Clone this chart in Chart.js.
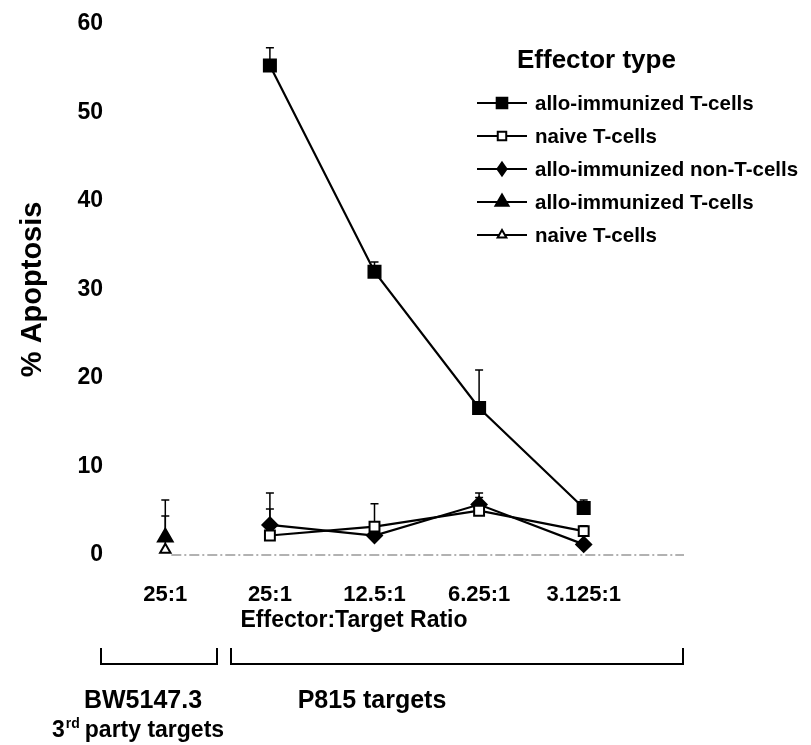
<!DOCTYPE html>
<html>
<head>
<meta charset="utf-8">
<script src="https://cdn.jsdelivr.net/npm/chart.js@4.4.0/dist/chart.umd.min.js"></script>
<style>
    html, body { margin: 0; padding: 0; background: #fff; }
</style>
</head>
<body>
<canvas id="apoptosisChart" width="811" height="745"></canvas>
<script>
// E:T ratios (first one is the BW5147.3 3rd party target, the rest P815)
const ratios = ['25:1', '25:1', '12.5:1', '6.25:1', '3.125:1'];

// % apoptosis, mean and upper error
const alloT = [null, 55.3, 32.0, 16.6, 5.3];
const alloTErr = [null, 2.0, 1.1, 4.3, 0.9];
const naiveT = [null, 2.2, 3.2, 5.0, 2.7];
const naiveTErr = [null, 3.0, 2.6, 1.5, 0.6];
const alloNonT = [null, 3.4, 2.2, 5.7, 1.2];
const alloNonTErr = [null, 3.6, 0, 1.3, 0];
const alloT3rd = [2.0, null, null, null, null];
const alloT3rdErr = [4.2, null, null, null, null];
const naiveT3rd = [0.6, null, null, null, null];
const naiveT3rdErr = [3.8, null, null, null, null];

const yTicks = [0, 10, 20, 30, 40, 50, 60];

const FONT = '"Liberation Sans", Arial, sans-serif';

function series(label, data, errors, style, fill, radius) {
    return {
        label: label,
        data: data,
        errors: errors,
        borderColor: '#000',
        borderWidth: 2.2,
        pointStyle: style,
        pointRadius: radius,
        pointHoverRadius: radius,
        pointBackgroundColor: fill,
        pointBorderColor: '#000',
        pointBorderWidth: 2,
        tension: 0,
        spanGaps: false,
        clip: false
    };
}

const datasets = [
    series('allo-immunized T-cells', alloT, alloTErr, 'rect', '#000', 8.5),
    series('naive T-cells', naiveT, naiveTErr, 'rect', '#fff', 7),
    series('allo-immunized non-T-cells', alloNonT, alloNonTErr, 'rectRot', '#000', 7.5),
    series('allo-immunized T-cells', alloT3rd, alloT3rdErr, 'triangle', '#000', 8.5),
    series('naive T-cells', naiveT3rd, naiveT3rdErr, 'triangle', '#fff', 6)
];

// draws a marker like chart.js does, for the legend
function drawMarker(ctx, style, fill, r, x, y) {
    ctx.save();
    ctx.fillStyle = fill;
    ctx.strokeStyle = '#000';
    ctx.lineWidth = 2;
    ctx.beginPath();
    if (style === 'rect') {
        const s = r * Math.SQRT1_2;
        ctx.rect(x - s, y - s, 2 * s, 2 * s);
    } else if (style === 'rectRot') {
        ctx.moveTo(x, y - r);
        ctx.lineTo(x + r * 0.7, y);
        ctx.lineTo(x, y + r);
        ctx.lineTo(x - r * 0.7, y);
        ctx.closePath();
    } else {
        ctx.moveTo(x, y - r);
        ctx.lineTo(x + r * 0.87, y + r * 0.5);
        ctx.lineTo(x - r * 0.87, y + r * 0.5);
        ctx.closePath();
    }
    ctx.fill();
    ctx.stroke();
    ctx.restore();
}

const baseline = {
    id: 'baseline',
    beforeDatasetsDraw(chart) {
        const ctx = chart.ctx;
        const y0 = chart.scales.y.getPixelForValue(0);
        const xs = chart.scales.x;
        ctx.save();
        ctx.strokeStyle = '#999';
        ctx.lineWidth = 1.5;
        ctx.setLineDash([10, 3, 2, 3]);
        ctx.beginPath();
        ctx.moveTo(xs.getPixelForValue(0) + 6, y0);
        ctx.lineTo(chart.chartArea.right + 48, y0);
        ctx.stroke();
        ctx.restore();
    }
};

const errorBars = {
    id: 'errorBars',
    beforeDatasetsDraw(chart) {
        const ctx = chart.ctx;
        const yScale = chart.scales.y;
        chart.data.datasets.forEach((ds, i) => {
            const meta = chart.getDatasetMeta(i);
            meta.data.forEach((pt, j) => {
                const v = ds.data[j], e = ds.errors[j];
                if (v == null || !e) return;
                const top = yScale.getPixelForValue(v + e);
                ctx.save();
                ctx.strokeStyle = '#000';
                ctx.lineWidth = 1.5;
                ctx.beginPath();
                ctx.moveTo(pt.x, pt.y);
                ctx.lineTo(pt.x, top);
                ctx.moveTo(pt.x - 4, top);
                ctx.lineTo(pt.x + 4, top);
                ctx.stroke();
                ctx.restore();
            });
        });
    }
};

const legendBox = {
    id: 'legendBox',
    afterDraw(chart) {
        const ctx = chart.ctx;
        ctx.save();
        ctx.fillStyle = '#000';
        ctx.textBaseline = 'middle';
        ctx.font = 'bold 26px ' + FONT;
        ctx.textAlign = 'left';
        ctx.fillText('Effector type', 517, 61);
        ctx.font = 'bold 20.5px ' + FONT;
        chart.data.datasets.forEach((ds, i) => {
            const y = 103 + i * 33;
            ctx.strokeStyle = '#000';
            ctx.lineWidth = 2;
            ctx.beginPath();
            ctx.moveTo(477, y);
            ctx.lineTo(527, y);
            ctx.stroke();
            drawMarker(ctx, ds.pointStyle, ds.pointBackgroundColor, ds.pointRadius - 1, 502, y);
            ctx.fillStyle = '#000';
            ctx.fillText(ds.label, 535, y + 1);
        });
        ctx.restore();
    }
};

const targetGroups = {
    id: 'targetGroups',
    afterDraw(chart) {
        const ctx = chart.ctx;
        ctx.save();
        ctx.fillStyle = '#000';
        ctx.textBaseline = 'middle';
        ctx.textAlign = 'center';
        ctx.font = 'bold 23px ' + FONT;
        ctx.fillText('Effector:Target Ratio', 354, 621);

        ctx.strokeStyle = '#000';
        ctx.lineWidth = 2;
        // brackets under the ratios
        [[101, 217], [231, 683]].forEach(b => {
            ctx.beginPath();
            ctx.moveTo(b[0], 648);
            ctx.lineTo(b[0], 664);
            ctx.lineTo(b[1], 664);
            ctx.lineTo(b[1], 648);
            ctx.stroke();
        });
        ctx.font = 'bold 25px ' + FONT;
        ctx.fillText('BW5147.3', 143, 701);
        ctx.fillText('P815 targets', 372, 701);
        // 3rd party targets, with superscript
        ctx.textAlign = 'left';
        let x = 52;
        ctx.font = 'bold 23px ' + FONT;
        ctx.fillText('3', x, 731);
        x += ctx.measureText('3').width + 1;
        ctx.font = 'bold 14px ' + FONT;
        ctx.fillText('rd', x, 724);
        x += ctx.measureText('rd').width + 5;
        ctx.font = 'bold 23px ' + FONT;
        ctx.fillText('party targets', x, 731);
        ctx.restore();
    }
};

new Chart(document.getElementById('apoptosisChart'), {
    type: 'line',
    data: {
        labels: ratios,
        datasets: datasets
    },
    options: {
        responsive: false,
        animation: false,
        layout: {
            padding: { left: 12, right: 175, top: 10, bottom: 110 }
        },
        plugins: {
            legend: { display: false },
            tooltip: { enabled: false }
        },
        scales: {
            x: {
                type: 'category',
                offset: true,
                grid: { display: false, drawTicks: false },
                border: { display: false },
                afterFit: scale => {
                    scale.height = 80;
                },
                ticks: {
                    color: '#000',
                    padding: 27,
                    font: { family: FONT, size: 22, weight: 'bold' }
                }
            },
            y: {
                min: 0,
                max: 60,
                afterBuildTicks: scale => {
                    scale.ticks = yTicks.map(v => ({ value: v }));
                },
                afterFit: scale => {
                    scale.width = 101;
                },
                grid: { display: false, drawTicks: false },
                border: { display: false },
                ticks: {
                    color: '#000',
                    padding: 10,
                    font: { family: FONT, size: 23, weight: 'bold' }
                },
                title: {
                    display: true,
                    text: '% Apoptosis',
                    color: '#000',
                    padding: { top: 4, bottom: 0 },
                    font: { family: FONT, size: 29, weight: 'bold' }
                }
            }
        }
    },
    plugins: [baseline, errorBars, legendBox, targetGroups]
});
</script>
</body>
</html>
